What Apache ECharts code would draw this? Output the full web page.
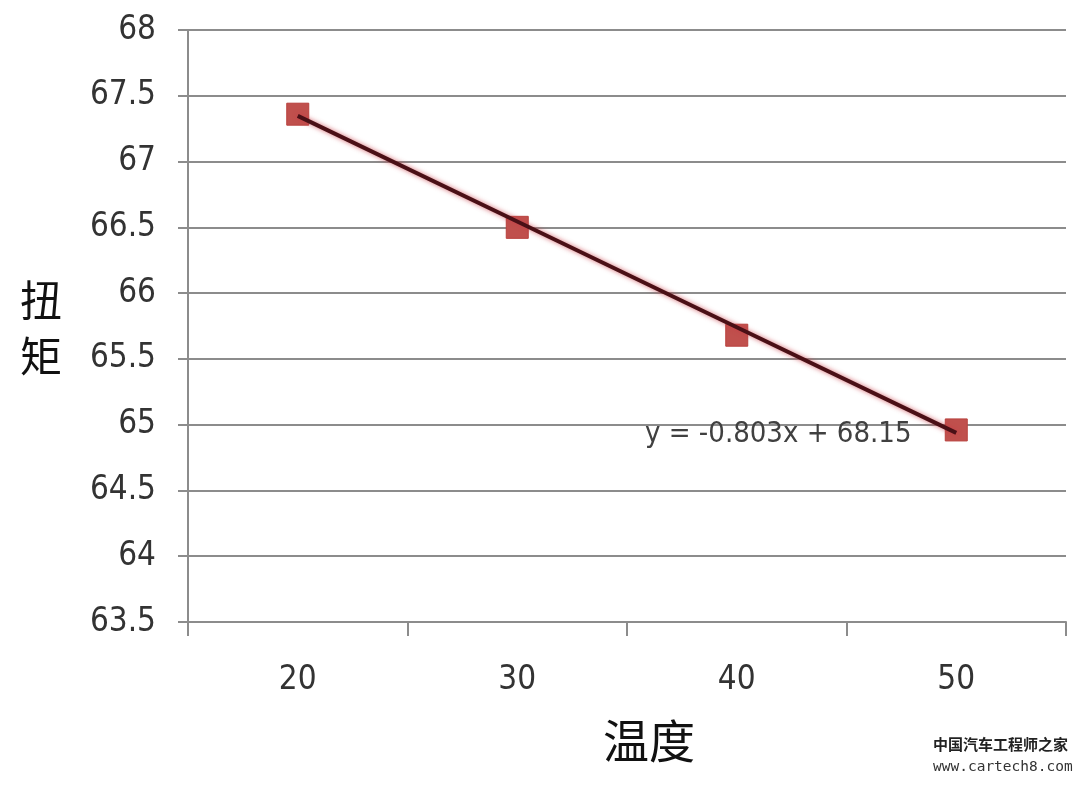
<!DOCTYPE html>
<html><head><meta charset="utf-8">
<script src="https://cdn.jsdelivr.net/npm/echarts@6/dist/echarts.min.js"></script>
<style>html,body{margin:0;padding:0;background:#fff}#c{width:1080px;height:785px}</style>
</head><body><div id="c"></div>
<script>
const categories = ['20', '30', '40', '50'];
const torque = [67.36, 66.5, 65.68, 64.96];
const trendValues = [67.347, 66.544, 65.741, 64.938];
const yTicks = {min: 63.5, max: 68, interval: 0.5};
const equation = 'y = -0.803x + 68.15';

const chart = echarts.init(document.getElementById('c'));
const numFont = '"Liberation Sans Narrow","DejaVu Sans Condensed",sans-serif';
chart.setOption({
  backgroundColor: '#fff',
  animation: false,
  grid: {left: 188, right: 14, top: 30, bottom: 163},
  xAxis: {
    type: 'category', data: categories, boundaryGap: true,
    axisLine: {lineStyle: {color: '#8c8c8c', width: 2}},
    axisTick: {show: true, length: 14, lineStyle: {color: '#8c8c8c', width: 2}},
    axisLabel: {fontFamily: numFont, fontSize: 33, color: '#333', margin: 42}
  },
  yAxis: {
    type: 'value', min: yTicks.min, max: yTicks.max, interval: yTicks.interval,
    axisLine: {show: true, lineStyle: {color: '#8c8c8c', width: 2}},
    axisTick: {show: true, length: 10, lineStyle: {color: '#8c8c8c', width: 2}},
    splitLine: {lineStyle: {color: '#8c8c8c', width: 2}},
    axisLabel: {fontFamily: numFont, fontSize: 33, color: '#333', margin: 32,
      formatter: v => String(v)}
  },
  series: [
    {
      type: 'line', data: torque, symbol: 'rect', symbolSize: 22,
      itemStyle: {color: '#c0504d', borderColor: '#b8403d', borderWidth: 1},
      lineStyle: {width: 0, opacity: 0}, z: 2
    },
    {
      type: 'line', data: trendValues, symbol: 'none',
      lineStyle: {color: '#4a1016', width: 4, shadowColor: 'rgba(200,60,70,0.8)', shadowBlur: 5},
      z: 3, silent: true
    }
  ],
  graphic: [
    {type: 'text', left: 645, top: 420, z: 10,
      style: {text: equation, font: '29px ' + numFont, fill: '#404040'}},
    {type: 'text', left: 20, top: 272,
      style: {text: '扭\n矩', font: '42px "Noto Sans CJK SC"', fill: '#111', lineHeight: 56}},
    {type: 'text', left: 603, top: 718,
      style: {text: '温度', font: '46px "Noto Sans CJK SC"', fill: '#111'}},
    {type: 'text', left: 933, top: 737,
      style: {text: '中国汽车工程师之家', font: 'bold 15px "Noto Sans CJK SC"', fill: '#222'}},
    {type: 'text', left: 933, top: 760,
      style: {text: 'www.cartech8.com', font: '14.5px "DejaVu Sans Mono"', fill: '#333'}}
  ]
});
</script></body></html>
